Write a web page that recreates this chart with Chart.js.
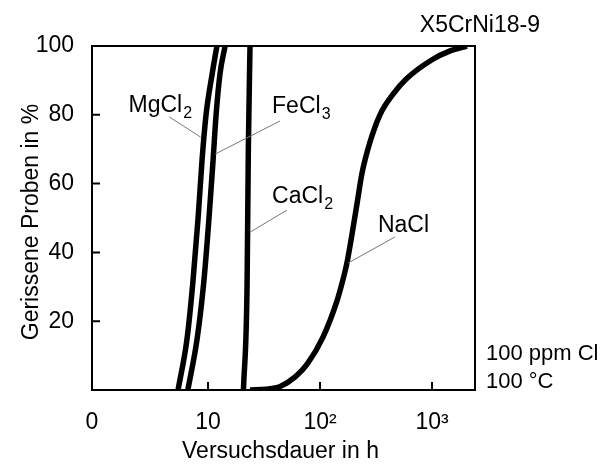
<!DOCTYPE html>
<html lang="de">
<head>
<meta charset="UTF-8">
<title>X5CrNi18-9 – Gerissene Proben</title>
<script src="https://cdn.jsdelivr.net/npm/chart.js"></script>
<style>
  html, body { margin: 0; padding: 0; background: #fff; }
</style>
</head>
<body>
<canvas id="chart" width="602" height="464"></canvas>
<script>
// values (x = Versuchsdauer in h, y = gerissene Proben in %)
const mgcl2Hours   = [5.4, 6.5, 7.35, 8.15, 8.85, 9.6, 10.9, 12.0];
const mgcl2Percent = [0, 15, 32, 50, 67, 80, 92, 100];

const fecl3Hours   = [6.6, 8.0, 9.2, 10.2, 11.1, 11.8, 12.8, 14.2];
const fecl3Percent = [0, 15, 32, 50, 67, 80, 92, 100];

const cacl2Hours   = [20.7, 22.3, 22.9, 23.7];
const cacl2Percent = [0, 30, 70, 100];

const naclHours   = [23.7, 33, 44, 60, 77, 106, 142, 160, 174, 197, 216, 237, 279, 343, 449, 598, 1000, 1450, 2050];
const naclPercent = [0, 0.2, 1, 3.8, 7.6, 15.3, 26, 32, 37, 47, 55, 63, 72, 80, 86, 90.6, 96, 98.6, 100];

const xTickValues = [0.92, 10, 100, 1000];
const xTickLabels = ['0', '10', '10²', '10³'];
const yTickValues = [20, 40, 60, 80, 100];

const FONT = "'Liberation Sans', Arial, sans-serif";

function pts(xs, ys) {
  return xs.map((v, i) => ({ x: v, y: ys[i] }));
}

function curve(label, xs, ys) {
  return {
    label: label,
    data: pts(xs, ys),
    borderColor: '#000',
    borderWidth: 5.5,
    pointRadius: 0,
    fill: false,
    cubicInterpolationMode: 'monotone'
  };
}

// series labels: text anchor + leader line (from, to) in data units
const seriesNotes = [
  { main: 'MgCl', sub: '2', at: [1.95, 80.8], from: [4.5, 79.4], to: [8.6, 73.5] },
  { main: 'FeCl', sub: '3', at: [37.3, 80.5], from: [43.9, 78.2], to: [11.6, 68.6] },
  { main: 'CaCl', sub: '2', at: [37.3, 54.3], from: [50.7, 52.3], to: [23.8, 45.9] },
  { main: 'NaCl', sub: '',  at: [329, 45.9], from: [467, 44.5], to: [178, 36.9] }
];

const decor = {
  id: 'decor',
  afterDraw(chart) {
    const { ctx, chartArea: a, scales: { x, y } } = chart;
    ctx.save();

    // frame
    ctx.strokeStyle = '#000';
    ctx.lineWidth = 2;
    ctx.strokeRect(a.left, a.top, a.right - a.left, a.bottom - a.top);

    // inward tick marks
    ctx.beginPath();
    yTickValues.forEach(v => {
      if (v >= 100) return;
      const p = y.getPixelForValue(v);
      ctx.moveTo(a.left, p);
      ctx.lineTo(a.left + 8, p);
    });
    xTickValues.slice(1).forEach(v => {
      const p = x.getPixelForValue(v);
      ctx.moveTo(p, a.bottom);
      ctx.lineTo(p, a.bottom - 8);
    });
    ctx.stroke();

    // leader lines
    ctx.strokeStyle = '#777';
    ctx.lineWidth = 1;
    seriesNotes.forEach(n => {
      ctx.beginPath();
      ctx.moveTo(x.getPixelForValue(n.from[0]), y.getPixelForValue(n.from[1]));
      ctx.lineTo(x.getPixelForValue(n.to[0]), y.getPixelForValue(n.to[1]));
      ctx.stroke();
    });

    // series labels with subscripts
    ctx.fillStyle = '#000';
    ctx.textBaseline = 'alphabetic';
    ctx.textAlign = 'left';
    seriesNotes.forEach(n => {
      const px = x.getPixelForValue(n.at[0]);
      const py = y.getPixelForValue(n.at[1]);
      ctx.font = '23px ' + FONT;
      ctx.fillText(n.main, px, py);
      if (n.sub) {
        const w = ctx.measureText(n.main).width;
        ctx.font = '16px ' + FONT;
        ctx.fillText(n.sub, px + w + 1, py + 6);
      }
    });

    // condition notes and title
    ctx.font = '22px ' + FONT;
    ctx.fillText('100 ppm Cl', a.right + 11, a.bottom - 30);
    ctx.fillText('100 °C', a.right + 11, a.bottom - 2);
    ctx.font = '23px ' + FONT;
    ctx.textAlign = 'right';
    ctx.fillText('X5CrNi18-9', a.right + 65, 32);

    // axis titles
    ctx.textAlign = 'center';
    ctx.fillText('Versuchsdauer in h', (a.left + a.right) / 2 - 3, 458);
    ctx.translate(38, (a.top + a.bottom) / 2 + 4);
    ctx.rotate(-Math.PI / 2);
    ctx.fillText('Gerissene Proben in %', 0, 0);

    ctx.restore();
  }
};

new Chart(document.getElementById('chart'), {
  type: 'line',
  data: {
    datasets: [
      curve('MgCl2', mgcl2Hours, mgcl2Percent),
      curve('FeCl3', fecl3Hours, fecl3Percent),
      curve('CaCl2', cacl2Hours, cacl2Percent),
      curve('NaCl', naclHours, naclPercent)
    ]
  },
  options: {
    responsive: false,
    animation: false,
    layout: { padding: { top: 46, right: 127, left: 0, bottom: 0 } },
    plugins: { legend: { display: false }, tooltip: { enabled: false } },
    scales: {
      x: {
        type: 'logarithmic',
        min: 0.92,
        max: 2420,
        afterBuildTicks: s => { s.ticks = xTickValues.map(v => ({ value: v })); },
        afterFit: s => { s.height = 74; },
        grid: { display: false },
        border: { display: false },
        ticks: {
          autoSkip: false,
          maxRotation: 0,
          padding: 11,
          color: '#000',
          font: { family: FONT, size: 23 },
          callback: (v, i) => xTickLabels[i]
        }
      },
      y: {
        min: 0,
        max: 100,
        afterBuildTicks: s => { s.ticks = yTickValues.map(v => ({ value: v })); },
        afterFit: s => { s.width = 92; },
        grid: { display: false },
        border: { display: false },
        ticks: {
          padding: 10,
          color: '#000',
          font: { family: FONT, size: 23 },
          callback: v => String(v)
        }
      }
    }
  },
  plugins: [decor]
});
</script>
</body>
</html>
